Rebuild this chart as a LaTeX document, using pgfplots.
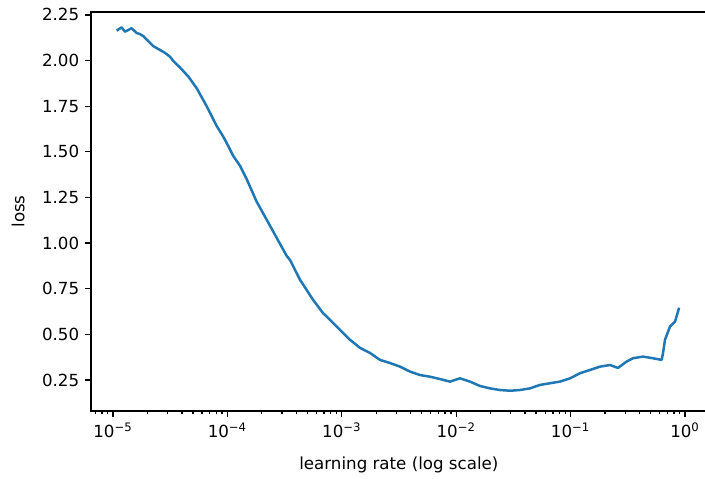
\documentclass[border=0pt]{standalone}
\usepackage{fontspec}
\setmainfont{DejaVu Sans}
\usepackage{pgfplots}
\pgfplotsset{compat=1.18}
\definecolor{c0}{HTML}{1F77B4}
\begin{document}
\begin{tikzpicture}
\useasboundingbox (-54.6pt,-40.2pt) rectangle (368.4pt,246.6pt);
\begin{axis}[
  at={(0,0)}, anchor=south west,
  scale only axis, width=375pt, height=239.4pt,
  xmin=-5.192, xmax=0.271, ymin=0.080, ymax=2.266,
  xtick={-5,-4,-3,-2,-1,0},
  xticklabels={10\textsuperscript{−5},10\textsuperscript{−4},10\textsuperscript{−3},10\textsuperscript{−2},10\textsuperscript{−1},10\textsuperscript{0}},
  minor xtick={-5.15490,-5.09691,-5.04576,
    -4.69897,-4.52288,-4.39794,-4.30103,-4.22185,-4.15490,-4.09691,-4.04576,
    -3.69897,-3.52288,-3.39794,-3.30103,-3.22185,-3.15490,-3.09691,-3.04576,
    -2.69897,-2.52288,-2.39794,-2.30103,-2.22185,-2.15490,-2.09691,-2.04576,
    -1.69897,-1.52288,-1.39794,-1.30103,-1.22185,-1.15490,-1.09691,-1.04576,
    -0.69897,-0.52288,-0.39794,-0.30103,-0.22185,-0.15490,-0.09691,-0.04576},
  ytick={0.25,0.5,0.75,1.0,1.25,1.5,1.75,2.0,2.25},
  yticklabel style={/pgf/number format/.cd, fixed, fixed zerofill, precision=2, assume math mode=true},
  tick align=outside, xtick pos=bottom, ytick pos=left,
  major tick length=3.6pt, minor tick length=2pt,
  axis line style={line width=0.8pt},
  every tick/.style={black, line width=0.8pt},
  tick label style={font=\fontsize{10}{12}\selectfont},
  label style={font=\fontsize{10}{12}\selectfont},
  xlabel={learning rate (log scale)}, ylabel={loss},
  every axis x label/.style={at={(axis description cs:0.4926,-0.135)}, anchor=center},
  every axis y label/.style={at={(axis description cs:-0.1165,0.5)}, rotate=90, anchor=center},
]
\addplot[color=c0, line width=1.5pt, line join=round] table {
lg loss
-4.968 2.164
-4.924 2.182
-4.895 2.158
-4.837 2.177
-4.793 2.151
-4.764 2.145
-4.738 2.135
-4.650 2.080
-4.589 2.058
-4.545 2.042
-4.500 2.020
-4.473 1.998
-4.414 1.962
-4.342 1.913
-4.268 1.848
-4.181 1.750
-4.094 1.642
-4.036 1.583
-3.995 1.535
-3.951 1.480
-3.890 1.424
-3.831 1.350
-3.744 1.227
-3.599 1.063
-3.482 0.930
-3.453 0.908
-3.365 0.799
-3.307 0.743
-3.252 0.690
-3.162 0.615
-3.132 0.598
-3.016 0.525
-2.928 0.470
-2.841 0.426
-2.753 0.398
-2.666 0.360
-2.579 0.343
-2.491 0.323
-2.404 0.296
-2.316 0.277
-2.229 0.268
-2.142 0.255
-2.054 0.241
-1.967 0.259
-1.879 0.241
-1.792 0.217
-1.705 0.204
-1.617 0.195
-1.530 0.191
-1.442 0.195
-1.355 0.204
-1.267 0.223
-1.180 0.232
-1.093 0.241
-1.005 0.259
-0.918 0.287
-0.830 0.305
-0.743 0.323
-0.656 0.332
-0.586 0.316
-0.510 0.351
-0.455 0.369
-0.367 0.378
-0.280 0.369
-0.204 0.360
-0.192 0.398
-0.175 0.470
-0.131 0.543
-0.087 0.570
-0.061 0.625
-0.052 0.646
};
\end{axis}
\end{tikzpicture}
\end{document}
